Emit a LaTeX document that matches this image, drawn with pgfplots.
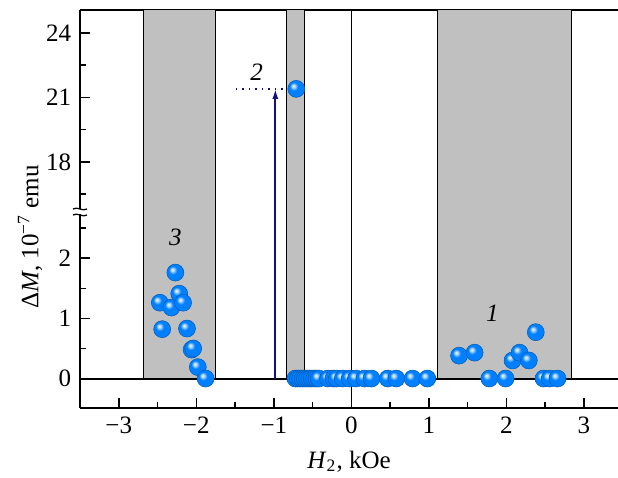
\documentclass[border=0pt]{standalone}
\usepackage{fontspec}
\setmainfont{Liberation Serif}
\usepackage{pgfplots}
\pgfplotsset{compat=1.18}
\usetikzlibrary{plotmarks,arrows.meta}

\definecolor{ballblue}{RGB}{0,128,255}
\definecolor{bandgray}{RGB}{192,192,192}
\definecolor{arrowblue}{RGB}{15,15,135}

% brighter ball shading than the TikZ default
\makeatletter
\pgfdeclareradialshading[tikz@ball]{ball}{\pgfqpoint{-9bp}{9bp}}{%
  color(0bp)=(tikz@ball!5!white); color(5bp)=(tikz@ball!35!white);
  color(12bp)=(tikz@ball); color(30bp)=(tikz@ball);
  color(42bp)=(tikz@ball!88!black); color(60bp)=(tikz@ball!75!black)}
\makeatother

\pgfplotsset{
  brk/.style={scale only axis, width=215.2pt, xmin=-3.5, xmax=3.44,
    axis y line*=left, axis line style={-, line width=0.6pt},
    tick align=inside, major tick length=4pt, minor tick length=2.4pt,
    tick style={black, line width=0.6pt},
    /pgf/number format/assume math mode=true,
    tick label style={font=\fontsize{10}{12}\selectfont},
    label style={font=\fontsize{10}{12}\selectfont}},
  band/.style={fill=bandgray, draw=black, line width=0.4pt},
  balls/.style={only marks, mark=ball, mark size=3.4pt,
    mark options={ball color=ballblue, draw=ballblue!70!black, line width=0.2pt}},
}

\begin{document}
\begin{tikzpicture}
\useasboundingbox (-32pt,-27.6pt) rectangle (215.2pt,163.2pt);

% lower part
\begin{axis}[brk, height=78.4pt, ymin=-0.49, ymax=2.767, axis x line*=bottom,
  ytick={0,1,2}, minor ytick={0.5,1.5,2.5},
  xtick={-3,-2,-1,0,1,2,3}, xticklabels={−3,−2,−1,0,1,2,3},
  minor xtick={-2.5,-1.5,-0.5,0.5,1.5,2.5},
  xlabel={\textit{H}\textsubscript{2}, kOe}]
\addplot[band] coordinates {(-2.68,0) (-2.68,3) (-1.75,3) (-1.75,0)} -- cycle;
\addplot[band] coordinates {(-0.84,0) (-0.84,3) (-0.61,3) (-0.61,0)} -- cycle;
\addplot[band] coordinates {(1.11,0) (1.11,3) (2.845,3) (2.845,0)} -- cycle;
\addplot[black, line width=0.4pt] coordinates {(0,-0.49) (0,3)};
\addplot[black, line width=0.8pt] coordinates {(-3.5,0) (3.44,0)};
\addplot[arrowblue, line width=0.7pt] coordinates {(-0.98,0) (-0.98,3)};
% series 3
\addplot[balls] coordinates {
(-2.27,1.76) (-2.47,1.26) (-2.32,1.18) (-2.22,1.41) (-2.17,1.26)
(-2.44,0.82) (-2.12,0.83) (-2.06,0.48) (-2.04,0.50) (-1.98,0.19) (-1.88,0)};
% middle row
\addplot[balls] coordinates {
(-0.72,0) (-0.69,0) (-0.66,0) (-0.63,0) (-0.60,0) (-0.57,0) (-0.54,0) (-0.51,0)
(-0.48,0) (-0.45,0) (-0.42,0) (-0.30,0) (-0.23,0) (-0.19,0) (-0.11,0) (-0.02,0)
(0.06,0) (0.17,0) (0.26,0) (0.47,0) (0.58,0) (0.79,0) (0.98,0)};
% series 1
\addplot[balls] coordinates {
(1.39,0.38) (1.59,0.43) (1.78,0) (1.99,0) (2.08,0.30) (2.17,0.43)
(2.29,0.30) (2.38,0.77) (2.48,0) (2.56,0) (2.66,0)};
\node[font=\itshape\fontsize{10}{12}\selectfont] at (axis cs:-2.27,2.35) {3};
\node[font=\itshape\fontsize{10}{12}\selectfont] at (axis cs:1.82,1.08) {1};
\end{axis}

% upper part
\begin{axis}[brk, at={(0,78.4pt)}, anchor=south west, height=80.8pt,
  ymin=15.67, ymax=25.07, axis x line*=top, xtick=\empty,
  ytick={18,21,24}, minor ytick={16.5,19.5,22.5}]
\addplot[band] coordinates {(-2.68,10) (-2.68,30) (-1.75,30) (-1.75,10)} -- cycle;
\addplot[band] coordinates {(-0.84,10) (-0.84,30) (-0.61,30) (-0.61,10)} -- cycle;
\addplot[band] coordinates {(1.11,10) (1.11,30) (2.845,30) (2.845,10)} -- cycle;
\addplot[black, line width=0.4pt] coordinates {(0,10) (0,30)};
\addplot[arrowblue, dotted, line width=0.6pt] coordinates {(-1.49,21.4) (-0.71,21.4)};
\addplot[arrowblue, line width=0.7pt, -{Latex[length=4pt,width=2.4pt]}] coordinates {(-0.98,10) (-0.98,21.4)};
\addplot[balls] coordinates {(-0.71,21.4)};
\node[font=\itshape\fontsize{10}{12}\selectfont] at (axis cs:-1.22,22.19) {2};
\end{axis}

% axis break
\fill[white] (-2pt,77.6pt) rectangle (2pt,79.6pt);
\draw[line width=0.5pt] (-2.8pt,79.6pt) .. controls (-1pt,80.8pt) and (1pt,78.4pt) .. (2.8pt,79.6pt);
\draw[line width=0.5pt] (-2.8pt,77.2pt) .. controls (-1pt,78.4pt) and (1pt,76pt) .. (2.8pt,77.2pt);

\node[rotate=90, font=\fontsize{10}{12}\selectfont] at (-20pt,68.4pt)
  {Δ\textit{M}, 10\textsuperscript{−7} emu};
\end{tikzpicture}
\end{document}
